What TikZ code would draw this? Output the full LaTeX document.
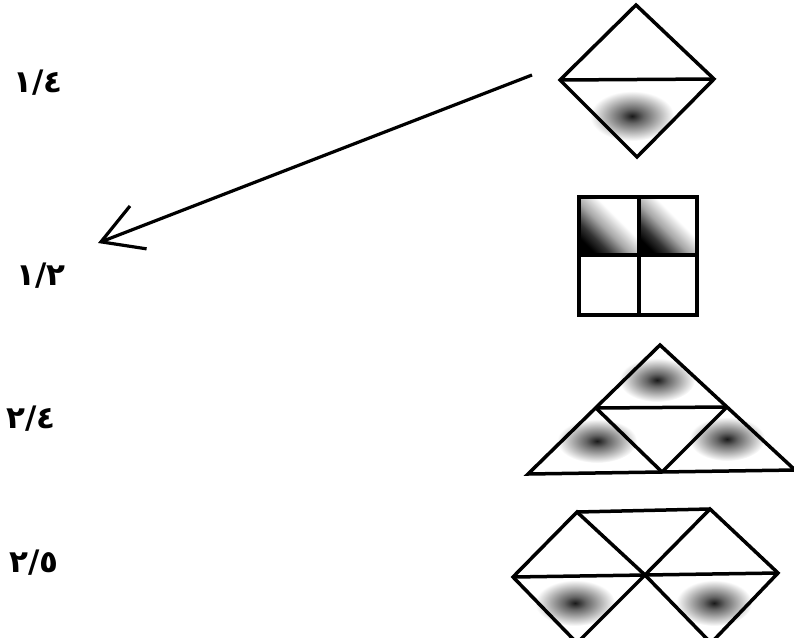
\documentclass[tikz,border=0pt]{standalone}
\usepackage{fontspec}
\newfontfamily\arabicfont[Script=Arabic]{DejaVu Sans}
\usetikzlibrary{arrows.meta}
\pgfdeclareradialshading{blob}{\pgfpointorigin}{color(0bp)=(black!90); color(7bp)=(black!60); color(25bp)=(white); color(50bp)=(white)}
\pgfdeclareverticalshading{cell}{100bp}{color(0bp)=(black); color(25bp)=(black); color(34bp)=(black!80); color(46bp)=(black!35); color(60bp)=(white); color(100bp)=(white)}
\tikzset{
  shp/.style={line width=3.5pt, line join=miter},
  inner/.style={line width=3.5pt, line join=round},
  lbl/.style={font=\arabicfont\bfseries\fontsize{31}{36}\selectfont, inner sep=0pt},
  blobfill/.style={shading=blob},
  cellfill/.style={shading=cell, shading angle=-45},
  arr/.style={line width=3.2pt, -{Straight Barb[length=40pt, width=46pt, line width=3.2pt]}}
}
\begin{document}
\begin{tikzpicture}[x=1pt,y=-1pt]
\useasboundingbox (0,0) rectangle (794,637);
\clip (0,0) rectangle (794,637);
% labels
\node[lbl] (l1) at (38,83) {١/٤};
\node[lbl] (l2) at (41,276) {١/٢};
\node[lbl] (l3) at (31,419) {٢/٤};
\node[lbl] (l4) at (34,563) {٢/٥};
% shape 1: diamond
\coordinate (d1t) at (636,5);
\coordinate (d1l) at (560,80);
\coordinate (d1r) at (714,79);
\coordinate (d1b) at (637,157);
\shade[blobfill] (632,116) ellipse [x radius=42, y radius=25];
\draw[shp] (d1t) -- (d1r) -- (d1b) -- (d1l) -- cycle;
\draw[inner] (d1l) -- (d1r);
% arrow
\coordinate (as) at (532,75);
\coordinate (ae) at (98,243);
\draw[arr] (as) -- (ae);
% shape 2: square
\shade[cellfill] (579,197) rectangle (639,255);
\shade[cellfill] (639,197) rectangle (697,255);
\draw[shp] (579,197) rectangle (697,315);
\draw[inner] (639,197) -- (639,315);
\draw[inner] (579,255) -- (697,255);
% shape 3: triangle
\coordinate (ta) at (660,345);
\coordinate (tbl) at (528,474);
\coordinate (tbr) at (795,470);
\coordinate (tml) at (596,408);
\coordinate (tmr) at (727,407);
\coordinate (tmb) at (662,472);
\shade[blobfill] (657,380) ellipse [x radius=38, y radius=22];
\shade[blobfill] (597,441) ellipse [x radius=40, y radius=22];
\shade[blobfill] (727,439) ellipse [x radius=38, y radius=22];
\draw[shp] (ta) -- (tbr) -- (tbl) -- cycle;
\draw[inner] (tml) -- (tmr);
\draw[inner] (tml) -- (tmb) -- (tmr);
% shape 4: two diamonds
\coordinate (ftl) at (577,512);
\coordinate (ftr) at (710,509);
\coordinate (fl) at (513,577);
\coordinate (fc) at (645,575);
\coordinate (fr) at (778,573);
\coordinate (fbl) at (577,643);
\coordinate (fbr) at (711,643);
\shade[blobfill] (575,603) ellipse [x radius=40, y radius=23];
\shade[blobfill] (714,603) ellipse [x radius=38, y radius=23];
\draw[shp] (fl) -- (ftl) -- (fc) -- (fbl) -- cycle;
\draw[shp] (fc) -- (ftr) -- (fr) -- (fbr) -- cycle;
\draw[inner] (ftl) -- (ftr);
\draw[inner] (fl) -- (fr);
\end{tikzpicture}
\end{document}
